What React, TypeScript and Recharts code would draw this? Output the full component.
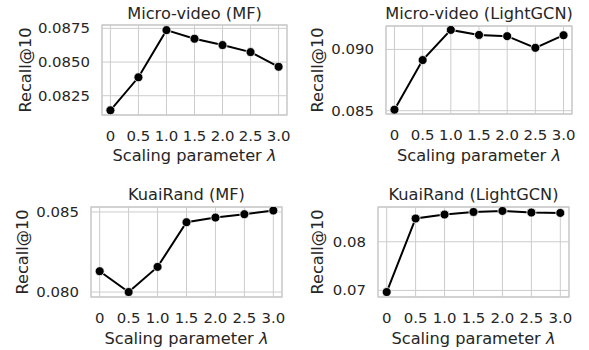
import React from 'react';
import { LineChart, Line, XAxis, YAxis, CartesianGrid, ReferenceArea } from 'recharts';

const lambdas = [0, 0.5, 1.0, 1.5, 2.0, 2.5, 3.0];
const lambdaLabels = ['0', '0.5', '1.0', '1.5', '2.0', '2.5', '3.0'];

const microMF = [0.08142, 0.08387, 0.08737, 0.08673, 0.08626, 0.08574, 0.08465];
const microLightGCN = [0.08508, 0.08913, 0.09159, 0.09118, 0.09108, 0.09013, 0.09116];
const kuaiMF = [0.0813, 0.08, 0.08157, 0.08436, 0.08465, 0.08486, 0.08509];
const kuaiLightGCN = [0.06967, 0.08478, 0.08559, 0.08612, 0.08633, 0.086, 0.08592];

const microMFTicks = [0.0825, 0.085, 0.0875];
const microLightGCNTicks = [0.085, 0.09];
const kuaiMFTicks = [0.08, 0.085];
const kuaiLightGCNTicks = [0.07, 0.08];

const FONT = '"DejaVu Sans", sans-serif';
const TEXT = '#262626';
const GRID = '#cccccc';
const TICK_SIZE = 14.9;
const LABEL_SIZE = 16.2;

interface PanelProps {
  title: string;
  values: number[];
  yTicks: number[];
  yDigits: number;
  yDomain: [number, number];
  left: number;
  top: number;
  width: number;
  height: number;
  box: { l: number; r: number; t: number; b: number };
  titleY: number;
  xLabelY: number;
  yLabelX: number;
}

const Panel: React.FC<PanelProps> = ({
  title,
  values,
  yTicks,
  yDigits,
  yDomain,
  left,
  top,
  width,
  height,
  box,
  titleY,
  xLabelY,
  yLabelX,
}) => {
  const data = lambdas.map((x, i) => ({ x, y: values[i] }));
  const cx = (box.l + box.r) / 2;
  const cy = (box.t + box.b) / 2;
  return (
    <div style={{ position: 'absolute', left, top, width, height }}>
      <LineChart
        width={width}
        height={height}
        data={data}
        margin={{ top: box.t, left: box.l - 1, right: width - box.r, bottom: height - box.b - 1 }}
      >
        <CartesianGrid stroke={GRID} strokeWidth={1} />
        <ReferenceArea
          x1={-0.15}
          x2={3.15}
          y1={yDomain[0]}
          y2={yDomain[1]}
          fill="none"
          stroke={GRID}
          strokeWidth={1.3}
          ifOverflow="visible"
        />
        <XAxis
          dataKey="x"
          type="number"
          domain={[-0.15, 3.15]}
          ticks={lambdas}
          axisLine={false}
          tickLine={false}
          tickSize={0}
          tickMargin={0}
          height={1}
          interval={0}
          tick={(p: any) => (
            <text
              x={p.x}
              y={box.b + 21}
              textAnchor="middle"
              dominantBaseline="central"
              fill={TEXT}
              fontSize={TICK_SIZE}
              fontFamily={FONT}
            >
              {lambdaLabels[lambdas.indexOf(p.payload.value)]}
            </text>
          )}
          label={{
            content: () => (
              <g>
                <text
                  x={cx}
                  y={titleY}
                  textAnchor="middle"
                  dominantBaseline="central"
                  fill={TEXT}
                  fontSize={LABEL_SIZE}
                  fontFamily={FONT}
                >
                  {title}
                </text>
                <text
                  x={cx}
                  y={xLabelY}
                  textAnchor="middle"
                  dominantBaseline="central"
                  fill={TEXT}
                  fontSize={LABEL_SIZE}
                  fontFamily={FONT}
                >
                  Scaling parameter <tspan fontStyle="italic">λ</tspan>
                </text>
              </g>
            ),
          }}
        />
        <YAxis
          type="number"
          domain={yDomain}
          ticks={yTicks}
          axisLine={false}
          tickLine={false}
          tickSize={0}
          tickMargin={0}
          width={1}
          interval={0}
          allowDataOverflow
          tick={(p: any) => (
            <text
              x={box.l - 12}
              y={p.y}
              textAnchor="end"
              dominantBaseline="central"
              fill={TEXT}
              fontSize={TICK_SIZE}
              fontFamily={FONT}
            >
              {Number(p.payload.value).toFixed(yDigits)}
            </text>
          )}
          label={{
            content: () => (
              <text
                x={yLabelX}
                y={cy}
                transform={`rotate(-90 ${yLabelX} ${cy})`}
                textAnchor="middle"
                dominantBaseline="central"
                fill={TEXT}
                fontSize={LABEL_SIZE}
                fontFamily={FONT}
              >
                Recall@10
              </text>
            ),
          }}
        />
        <Line
          dataKey="y"
          stroke="#000"
          strokeWidth={2}
          dot={{ r: 4.5, fill: '#000', stroke: '#fff', strokeWidth: 0.8 }}
          isAnimationActive={false}
        />
      </LineChart>
    </div>
  );
};

export default function App() {
  return (
    <div style={{ position: 'absolute', left: 0, top: 0, width: 589, height: 350, background: '#fff' }}>
      <Panel
        title="Micro-video (MF)"
        values={microMF}
        yTicks={microMFTicks}
        yDigits={4}
        yDomain={[0.08107, 0.08775]}
        left={0}
        top={0}
        width={295}
        height={175}
        box={{ l: 102, r: 287, t: 25, b: 115 }}
        titleY={13}
        xLabelY={155}
        yLabelX={25}
      />
      <Panel
        title="Micro-video (LightGCN)"
        values={microLightGCN}
        yTicks={microLightGCNTicks}
        yDigits={3}
        yDomain={[0.08473, 0.09191]}
        left={295}
        top={0}
        width={294}
        height={175}
        box={{ l: 91, r: 277, t: 26, b: 114 }}
        titleY={13}
        xLabelY={155}
        yLabelX={22}
      />
      <Panel
        title="KuaiRand (MF)"
        values={kuaiMF}
        yTicks={kuaiMFTicks}
        yDigits={3}
        yDomain={[0.07969, 0.08531]}
        left={0}
        top={175}
        width={295}
        height={175}
        box={{ l: 91, r: 282, t: 32, b: 122 }}
        titleY={19}
        xLabelY={163}
        yLabelX={22}
      />
      <Panel
        title="KuaiRand (LightGCN)"
        values={kuaiLightGCN}
        yTicks={kuaiLightGCNTicks}
        yDigits={2}
        yDomain={[0.06865, 0.08714]}
        left={295}
        top={175}
        width={294}
        height={175}
        box={{ l: 83, r: 274, t: 32, b: 122 }}
        titleY={19}
        xLabelY={163}
        yLabelX={22}
      />
    </div>
  );
}
